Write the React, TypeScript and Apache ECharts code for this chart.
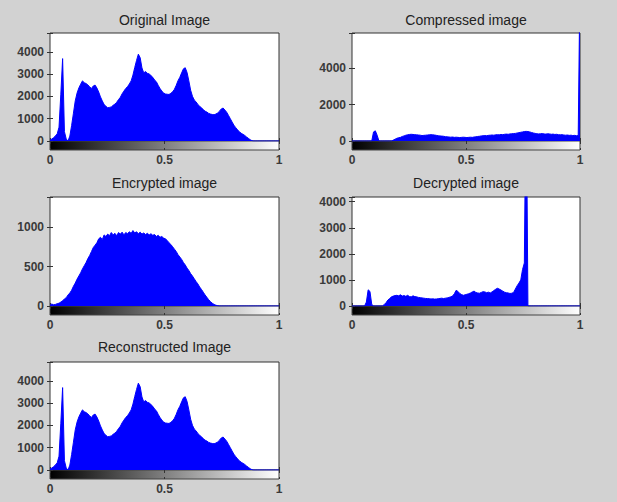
import React, { useEffect, useRef } from 'react';
import * as echarts from 'echarts';

// Histogram counts (128 bins spanning intensity 0..1)
const originalCounts = [
  40, 90, 150, 230, 320, 620, 2100, 3700, 420, 90, 0, 220, 700, 1250, 1800, 2150,
  2380, 2550, 2700, 2620, 2580, 2520, 2430, 2360, 2470, 2510, 2380, 2200, 1980, 1800, 1640, 1560,
  1490, 1510, 1530, 1600, 1660, 1740, 1860, 1960, 2120, 2240, 2360, 2440, 2560, 2700, 2960, 3300,
  3620, 3900, 3740, 3280, 3060, 3120, 3040, 3010, 2940, 2860, 2740, 2660, 2500, 2360, 2240, 2160,
  2110, 2100, 2090, 2140, 2210, 2320, 2500, 2710, 2860, 3060, 3240, 3290, 3080, 2700, 2280, 2010,
  1840, 1760, 1640, 1560, 1490, 1410, 1340, 1300, 1240, 1210, 1190, 1180, 1210, 1260, 1340, 1440,
  1480, 1390, 1290, 1150, 1000, 850, 710, 600, 500, 420, 350, 300, 250, 180, 120, 60,
  15, 0, 0, 0, 0, 0, 0, 0, 0, 0, 0, 0, 0, 0, 0, 0,
];

const compressedCounts = [
  0, 0, 0, 0, 0, 0, 0, 0, 0, 0, 0, 0, 500, 560, 320, 0,
  0, 0, 0, 0, 0, 0, 0, 50, 100, 150, 180, 200, 250, 280, 320, 340,
  360, 370, 360, 350, 340, 330, 320, 300, 310, 320, 330, 340, 350, 340, 330, 310,
  290, 280, 270, 260, 240, 230, 220, 210, 220, 200, 210, 200, 190, 200, 210, 200,
  190, 200, 210, 200, 220, 230, 250, 260, 280, 290, 300, 290, 310, 320, 330, 320,
  340, 350, 340, 360, 350, 370, 380, 370, 390, 400, 410, 420, 440, 460, 480, 500,
  520, 530, 520, 500, 470, 440, 420, 400, 390, 400, 410, 390, 380, 400, 390, 370,
  380, 360, 370, 350, 340, 350, 330, 320, 330, 310, 320, 300, 310, 290, 300, 9000,
];

const encryptedCounts = [
  10, 25, 15, 20, 30, 35, 50, 65, 90, 105, 140, 165, 200, 250, 290, 340,
  380, 420, 470, 510, 550, 600, 640, 690, 740, 770, 800, 850, 870, 840, 900, 880,
  910, 890, 930, 900, 920, 890, 930, 910, 935, 900, 930, 915, 940, 920, 955, 925,
  940, 915, 935, 910, 925, 905, 920, 900, 915, 895, 905, 880, 895, 870, 880, 860,
  850, 830, 800, 780, 750, 720, 690, 650, 620, 590, 550, 520, 480, 450, 410, 380,
  345, 310, 280, 240, 210, 175, 140, 110, 80, 55, 35, 20, 10, 3, 0, 0,
  0, 0, 0, 0, 0, 0, 0, 0, 0, 0, 0, 0, 0, 0, 0, 0,
  0, 0, 0, 0, 0, 0, 0, 0, 0, 0, 0, 0, 0, 0, 0, 0,
];

const decryptedCounts = [
  0, 0, 0, 0, 0, 0, 0, 0, 150, 620, 560, 60, 0, 0, 0, 0,
  0, 0, 60, 130, 230, 290, 350, 380, 400, 410, 390, 430, 380, 400, 370, 410,
  360, 350, 390, 360, 350, 330, 320, 310, 300, 290, 285, 280, 270, 275, 265, 270,
  280, 290, 300, 285, 300, 310, 330, 350, 380, 470, 600, 560, 480, 440, 410, 430,
  450, 470, 500, 540, 570, 520, 500, 490, 520, 550, 540, 510, 530, 500, 540, 590,
  640, 680, 650, 610, 570, 530, 510, 500, 480, 490, 520, 650, 780, 880, 1000, 1400,
  1650, 9000, 0, 0, 0, 0, 0, 0, 0, 0, 0, 0, 0, 0, 0, 0,
  0, 0, 0, 0, 0, 0, 0, 0, 0, 0, 0, 0, 0, 0, 0, 0,
];

// Reconstructed image histogram is identical to the original one
const reconstructedCounts = originalCounts;

const titles = ['Original Image', 'Compressed image', 'Encrypted image', 'Decrypted image', 'Reconstructed Image'];
const yMaxes = [4850, 5950, 1380, 4180, 4850];
const yIntervals = [1000, 2000, 500, 1000, 1000];
const xTicks = [0, 0.5, 1];

const FONT = '"Liberation Sans", Arial, Helvetica, sans-serif';
const BG = '#d2d2d2';
const BLUE = '#0000ff';
const AXIS = '#333333';

// layout (pixels)
const layout = [
  { left: 50, top: 33, width: 229, height: 108, titleTop: 13 },
  { left: 352, top: 33, width: 228, height: 108, titleTop: 13 },
  { left: 50, top: 197, width: 229, height: 109, titleTop: 176 },
  { left: 352, top: 197, width: 228, height: 109, titleTop: 176 },
  { left: 50, top: 362, width: 229, height: 108, titleTop: 340 },
];
const CB_H = 9;

export default function App() {
  const ref = useRef<HTMLDivElement>(null);

  useEffect(() => {
    if (!ref.current) return;
    const chart = echarts.init(ref.current, null, { renderer: 'svg' });
    const datasets = [originalCounts, compressedCounts, encryptedCounts, decryptedCounts, reconstructedCounts];

    const grid: any[] = [];
    const xAxis: any[] = [];
    const yAxis: any[] = [];
    const series: any[] = [];
    const title: any[] = [];

    const tickStyle = { show: true, inside: true, length: 3, lineStyle: { color: AXIS, width: 1 } };
    const labelStyle = { fontFamily: FONT, fontSize: 12, fontWeight: 'bold' as const, color: '#3a3a3a' };

    datasets.forEach((counts, p) => {
      const L = layout[p];
      const interval = yIntervals[p];
      grid.push({
        left: L.left, top: L.top, width: L.width, height: L.height,
        show: true, backgroundColor: '#ffffff', borderColor: AXIS, borderWidth: 1,
      });
      grid.push({
        left: L.left, top: L.top + L.height, width: L.width, height: CB_H,
        show: true, borderColor: '#444444', borderWidth: 1,
        backgroundColor: {
          type: 'linear', x: 0, y: 0, x2: 1, y2: 0,
          colorStops: [{ offset: 0, color: '#000000' }, { offset: 1, color: '#ffffff' }],
        },
      });
      const hg = 2 * p;
      const cg = 2 * p + 1;
      xAxis.push({
        type: 'value', gridIndex: hg, min: 0, max: 1, interval: 0.5, position: 'bottom',
        axisLine: { show: false }, axisTick: tickStyle, axisLabel: { show: false }, splitLine: { show: false },
      });
      xAxis.push({
        type: 'value', gridIndex: hg, min: 0, max: 1, interval: 0.5, position: 'top',
        axisLine: { show: false }, axisTick: tickStyle, axisLabel: { show: false }, splitLine: { show: false },
      });
      xAxis.push({
        type: 'value', gridIndex: cg, min: 0, max: 1, interval: 0.5, position: 'bottom',
        axisLine: { show: false }, axisTick: { ...tickStyle, length: 2 },
        axisLabel: {
          ...labelStyle, margin: 4,
          formatter: (v: number) => (xTicks.indexOf(v) >= 0 ? String(v) : ''),
        },
        splitLine: { show: false },
      });
      yAxis.push({
        type: 'value', gridIndex: hg, min: 0, max: yMaxes[p], interval, position: 'left',
        axisLine: { show: false }, axisTick: tickStyle, splitLine: { show: false },
        axisLabel: {
          ...labelStyle, margin: 6,
          formatter: (v: number) => (Math.abs(v % interval) < 1e-9 ? String(v) : ''),
        },
      });
      yAxis.push({
        type: 'value', gridIndex: hg, min: 0, max: yMaxes[p], interval, position: 'right',
        axisLine: { show: false }, axisTick: tickStyle, splitLine: { show: false },
        axisLabel: { show: false },
      });
      yAxis.push({
        type: 'value', gridIndex: cg, min: 0, max: 1, show: false,
      });

      const n = counts.length;
      series.push({
        type: 'line',
        xAxisIndex: 3 * p,
        yAxisIndex: 3 * p,
        data: counts.map((v, i) => [i / (n - 1), v]),
        symbol: 'none',
        clip: true,
        lineStyle: { color: BLUE, width: 1 },
        areaStyle: { color: BLUE, opacity: 1 },
        silent: true,
      });

      title.push({
        text: titles[p],
        left: L.left + L.width / 2,
        top: L.titleTop,
        textAlign: 'center',
        padding: 0,
        textStyle: { fontFamily: FONT, fontSize: 14, fontWeight: 'normal', color: '#222222' },
      });
    });

    chart.setOption({
      animation: false,
      backgroundColor: BG,
      title,
      grid,
      xAxis,
      yAxis,
      series,
    });

    return () => chart.dispose();
  }, []);

  return (
    <div
      ref={ref}
      style={{ position: 'fixed', left: 0, top: 0, width: 617, height: 502, background: BG }}
    />
  );
}
